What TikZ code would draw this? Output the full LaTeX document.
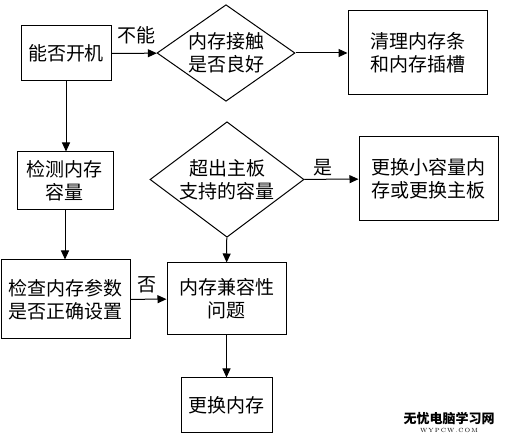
\documentclass[tikz,border=0pt]{standalone}
\usepackage{fontspec}
\newfontfamily\cjk{Noto Sans CJK SC}
\usetikzlibrary{shapes.geometric, arrows.meta}

\begin{document}
\begin{tikzpicture}[x=1pt,y=-1pt,
  every node/.style={font=\cjk\fontsize{19}{23}\selectfont, align=center},
  box/.style={draw=black, line width=1pt, rectangle, inner sep=0pt},
  ask/.style={draw=black, line width=1pt, diamond, inner sep=-5pt},
  flow/.style={draw=black, line width=1pt, -{Triangle[length=9pt,width=8pt]}}]
\color{black}
\useasboundingbox (0,0) rectangle (531,443);

\node[box, minimum width=90pt, minimum height=55pt] (kj) at (66,53.5) {能否开机};
\node[ask, minimum width=138pt, minimum height=84pt] (jc) at (226,53) {内存接触\\是否良好};
\node[box, minimum width=139pt, minimum height=84pt] (ql) at (417.5,53) {清理内存条\\和内存插槽};

\node[box, minimum width=96pt, minimum height=58pt] (jcrl) at (65,181) {检测内存\\容量};
\node[ask, minimum width=154pt, minimum height=93pt] (cc) at (227,179.5) {超出主板\\支持的容量};
\node[box, minimum width=139pt, minimum height=84pt] (ghzb) at (428.5,179) {更换小容量内\\存或更换主板};

\node[box, minimum width=129pt, minimum height=79pt] (cs) at (65.5,299.5) {检查内存参数\\是否正确设置};
\node[box, minimum width=119pt, minimum height=72pt] (jr) at (226.5,299) {内存兼容性\\问题};
\node[box, minimum width=91pt, minimum height=55pt] (ghnc) at (226.5,405.5) {更换内存};

\node[] (lbl1) at (136,35) {不能};
\node[] (lbl2) at (323,168) {是};
\node[] (lbl3) at (147,285) {否};

% watermark
\node[font=\cjk\bfseries\fontsize{13}{13}\selectfont] (wm1) at (449,419) {无忧电脑学习网};
\node[font=\fontsize{6}{6}\selectfont] (wm2) at (449,430) {W\,Y\,P\,C\,W\,.\,C\,O\,M};

\draw [flow] (kj) edge (jc);
\draw [flow] (jc) edge (ql);
\draw [flow] (kj.south) -- (kj.south |- jcrl.north);
\draw [flow] (jcrl.south) -- (jcrl.south |- cs.north);
\draw [flow] (cc) edge (ghzb);
\draw [flow] (cc) edge (jr);
\draw [flow] (cs) edge (jr);
\draw [flow] (jr) edge (ghnc);
\end{tikzpicture}
\end{document}
